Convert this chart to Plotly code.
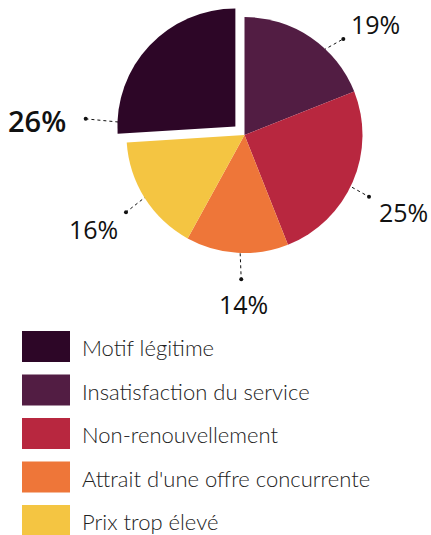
import math
import plotly.graph_objects as go

# ---- data ----
labels = ["Motif légitime", "Insatisfaction du service", "Non-renouvellement",
          "Attrait d'une offre concurrente", "Prix trop élevé"]
values = [26, 19, 25, 14, 16]
pct_labels = ["26%", "19%", "25%", "14%", "16%"]
colors = ["#2d0627", "#521d43", "#b8273f", "#ee7639", "#f4c542"]

# ---- layout / style ----
W, H = 431, 535
cx, cy, R = 244.5, 135.0, 118.0
pulls = [0.106, 0, 0, 0, 0]
# per slice leader geometry: (angle offset, radius fraction) for inner dot, outer dot, label
leader_style = [
    ((-41.9, 0.79), (-40.3, 1.27), (-41.1, 1.68), 29, 600),
    ((1.1, 0.696), (11.6, 1.168), (15.2, 1.457), 25, 400),
    ((1.1, 0.709), (3.0, 1.178), (2.1, 1.497), 25, 400),
    ((0.0, 0.75), (-2.3, 1.223), (-3.4, 1.424), 25, 400),
    ((2.1, 0.773), (-0.7, 1.199), (0.8, 1.504), 25, 400),
]

total = sum(values)
rotation = -360.0 * values[0] / total
half = R * (1 + max(pulls))
domain_x = [(cx - half) / W, (cx + half) / W]
domain_y = [1 - (cy + half) / H, 1 - (cy - half) / H]

fig = go.Figure()
fig.add_trace(go.Pie(
    labels=labels, values=values, sort=False, direction="clockwise",
    rotation=rotation, pull=pulls, textinfo="none", hoverinfo="label+percent",
    marker=dict(colors=colors, line=dict(width=0)),
    domain=dict(x=domain_x, y=domain_y), showlegend=False,
))


def pt(a_deg, rf, ccx, ccy):
    a = math.radians(a_deg)
    return ccx + rf * R * math.sin(a), ccy - rf * R * math.cos(a)


annotations = []
start = rotation
for i, v in enumerate(values):
    span = 360.0 * v / total
    mid = start + span / 2
    start += span
    ccx = cx + pulls[i] * R * math.sin(math.radians(mid))
    ccy = cy - pulls[i] * R * math.cos(math.radians(mid))
    (oi, ri), (oo, ro), (ol, rl), fs, fw = leader_style[i]
    x0, y0 = pt(mid + oi, ri, ccx, ccy)
    x1, y1 = pt(mid + oo, ro, ccx, ccy)
    xl, yl = pt(mid + ol, rl, ccx, ccy)
    fig.add_trace(go.Scatter(
        x=[x0, x1], y=[y0, y1], mode="lines+markers",
        line=dict(color="#111111", width=1, dash="dot"),
        marker=dict(size=4, color="#111111"),
        hoverinfo="skip", showlegend=False, xaxis="x", yaxis="y",
    ))
    annotations.append(dict(
        x=xl, y=yl + 1, xref="x", yref="y", text=pct_labels[i], showarrow=False,
        xanchor="center", yanchor="middle",
        font=dict(family="Open Sans", size=fs, color="#111111", weight=fw),
    ))

# custom legend
leg_top, leg_pitch, sw_w, sw_h, sw_x = 331, 43.5, 48, 31, 22
shapes = []
for i, (lab, col) in enumerate(zip(labels, colors)):
    y_top = leg_top + i * leg_pitch
    shapes.append(dict(type="rect", xref="x", yref="y", x0=sw_x, x1=sw_x + sw_w,
                       y0=y_top, y1=y_top + sw_h, fillcolor=col, line=dict(width=0)))
    annotations.append(dict(
        x=80, y=y_top + sw_h / 2 + 1, xref="x", yref="y", text=lab, showarrow=False,
        xanchor="left", yanchor="middle",
        font=dict(family="Lato", size=22, color="#222222", weight=300),
    ))

fig.update_layout(
    width=W, height=H, margin=dict(l=0, r=0, t=0, b=0),
    paper_bgcolor="white", plot_bgcolor="rgba(0,0,0,0)",
    xaxis=dict(range=[0, W], visible=False, domain=[0, 1], fixedrange=True),
    yaxis=dict(range=[H, 0], visible=False, domain=[0, 1], fixedrange=True),
    shapes=shapes, annotations=annotations, showlegend=False,
)

fig.write_html("out.html", config={"displayModeBar": False},
               post_script="document.body.style.margin='0';document.body.style.overflow='hidden';")
